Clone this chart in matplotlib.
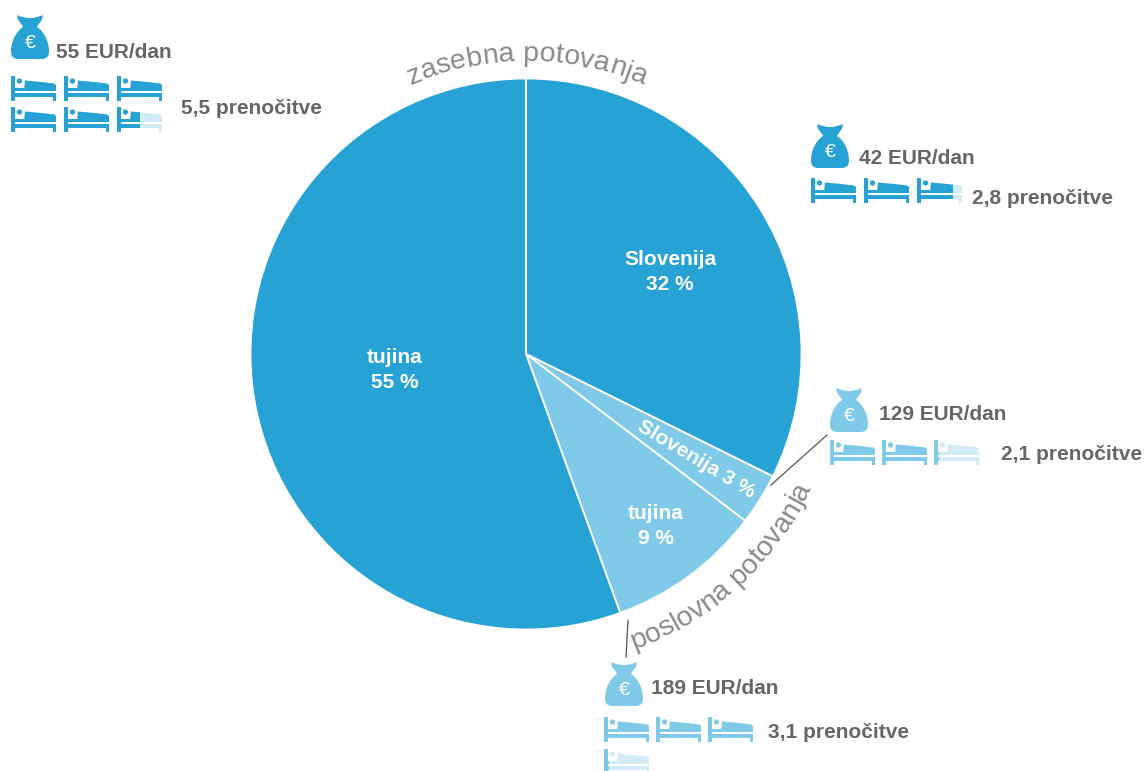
import math
import matplotlib
matplotlib.use("Agg")
import matplotlib.pyplot as plt
from matplotlib.font_manager import FontProperties
from matplotlib.patches import Circle, PathPatch, Polygon, Rectangle
from matplotlib.path import Path

W, H = 1144, 771
DARK = "#27a2d4"
LIGHT = "#7fcae8"
GREY = "#666666"

# pie
shares = [32, 3, 9, 55]
share_colors = [DARK, LIGHT, LIGHT, DARK]

# per group: label pos, stays, spend
spend = ["55 EUR/dan", "42 EUR/dan", "129 EUR/dan", "189 EUR/dan"]
stays = ["5,5 prenočitve", "2,8 prenočitve", "2,1 prenočitve", "3,1 prenočitve"]
bed_counts = [5.5, 2.8, 2.1, 3.1]

plt.rcParams["font.family"] = ["Liberation Sans", "DejaVu Sans"]

fig = plt.figure(figsize=(W / 100, H / 100), dpi=100)
ax = fig.add_axes([0, 0, 1, 1])

CX, CY, R = 526, H - 354, 275.5


def yy(y):
    # picture rows run downwards, axes upwards
    return H - y


ax.pie(shares, colors=share_colors, center=(CX, CY), radius=R, startangle=90,
       counterclock=False, normalize=True, frame=False,
       wedgeprops={"edgecolor": "white", "linewidth": 1.3})
ax.set_xlim(0, W)
ax.set_ylim(0, H)
ax.set_aspect("equal")
ax.axis("off")


def curved(s, r, mid, inner=False, **kw):
    # one letter at a time along a circle round the pie, mid in degrees clockwise from top
    prop = FontProperties(family="Liberation Sans", size=kw["fontsize"])
    rend = fig.canvas.get_renderer()
    total = rend.get_text_width_height_descent(s, prop, False)[0]
    sign = -1 if inner else 1
    for i, ch in enumerate(s):
        w0 = rend.get_text_width_height_descent(s[:i], prop, False)[0] if i else 0
        w1 = rend.get_text_width_height_descent(s[:i + 1], prop, False)[0]
        t = math.radians(mid) + sign * ((w0 + w1) / 2 - total / 2) / r
        x = CX + r * math.sin(t)
        y = CY + r * math.cos(t)
        rot = 180 - math.degrees(t) if inner else -math.degrees(t)
        ax.text(x, y, ch, rotation=rot, rotation_mode="anchor", ha="center", va="baseline", **kw)


def bed(x, y, color, frac=1.0):
    # x, y = top left corner of the icon in picture pixels
    def shapes(c):
        return [
            Rectangle((x, yy(y + 25)), 3.5, 25, fc=c, ec="none"),
            Rectangle((x, yy(y + 20.5)), 45, 3.5, fc=c, ec="none"),
            Rectangle((x + 41.5, yy(y + 25)), 3.5, 8, fc=c, ec="none"),
            Rectangle((x + 3, yy(y + 15)), 10, 3.5, fc=c, ec="none"),
            Circle((x + 8.5, yy(y + 5)), 2.6, fc=c, ec="none"),
            Polygon([(x + 14, yy(y + 4.5)), (x + 30, yy(y + 6)), (x + 43, yy(y + 7.5)), (x + 45, yy(y + 9)),
                     (x + 45, yy(y + 15)), (x + 13, yy(y + 15))], fc=c, ec="none"),
        ]

    for p in shapes("#d3ebf5"):
        ax.add_patch(p)
    clip = Rectangle((x, yy(y + 26)), 45 * frac, 27, transform=ax.transData)
    for p in shapes(color):
        ax.add_patch(p)
        p.set_clip_path(clip)


def bag(x, y, color):
    # 38 x 44 px money bag, top left at x, y
    w, h = 38, 44

    def P(u, v):
        return (x + u * w, yy(y + v * h))

    verts = [P(.16, 0), P(.33, .07), P(.5, .07), P(.67, .07), P(.84, 0),
             P(.82, .1), P(.72, .22), P(.68, .27),
             P(.88, .38), P(1, .62), P(1, .82), P(1, .96), P(.92, 1), P(.8, 1),
             P(.2, 1), P(.08, 1), P(0, .96), P(0, .82), P(0, .62), P(.12, .38), P(.32, .27),
             P(.28, .22), P(.18, .1), P(.16, 0), P(.16, 0)]
    codes = [Path.MOVETO, Path.CURVE3, Path.CURVE3, Path.CURVE3, Path.CURVE3,
             Path.LINETO, Path.LINETO, Path.LINETO,
             Path.CURVE4, Path.CURVE4, Path.CURVE4, Path.CURVE4, Path.CURVE4, Path.CURVE4,
             Path.LINETO, Path.CURVE4, Path.CURVE4, Path.CURVE4, Path.CURVE4, Path.CURVE4, Path.CURVE4,
             Path.LINETO, Path.LINETO, Path.LINETO, Path.CLOSEPOLY]
    ax.add_patch(PathPatch(Path(verts, codes), fc=color, ec="none"))
    ax.text(x + w * .5, yy(y + h * .64), "€", color="white", fontsize=14, ha="center", va="center")


# labels inside the pie
slice_kw = dict(color="white", fontsize=15, fontweight="bold", ha="center", va="center", linespacing=1.38)
ax.text(670, yy(272), "Slovenija\n32 %", **slice_kw)
ax.text(395, yy(370), "tujina\n55 %", **slice_kw)
ax.text(656, yy(526), "tujina\n9 %", **slice_kw)
ax.text(696, yy(459), "Slovenija 3 %", rotation=-31, rotation_mode="anchor", **slice_kw)

# curved titles
curved("zasebna potovanja", 293, 0.2, color="#8a8a8a", fontsize=20.5)
curved("poslovna potovanja", 315, 137.5, inner=True, color="#8a8a8a", fontsize=20.5)

# leader lines
ax.plot([771, 827], [yy(485), yy(435)], color="#555555", lw=0.9)
ax.plot([628, 626], [yy(620), yy(657)], color="#555555", lw=0.9)

# bags
bag(11, 15, DARK)
bag(811, 124, DARK)
bag(830, 388, LIGHT)
bag(605, 662, LIGHT)

# beds, drawn from the nights count, 3 per row
bed_starts = [(11, 76, 53, 31), (811, 178, 53, 31), (830, 440, 52, 31), (604, 717, 52, 32)]
bed_colors = [DARK, DARK, LIGHT, LIGHT]
for n, (bx, by, dx, dy), c in zip(bed_counts, bed_starts, bed_colors):
    for i in range(math.ceil(n)):
        bed(bx + dx * (i % 3), by + dy * (i // 3), c, min(1.0, n - i))

# numbers next to the icons
text_kw = dict(color=GREY, fontsize=15, fontweight="bold", ha="left", va="center")
for s, (x, y) in zip(spend, [(56, 53), (859, 158), (879, 415), (651, 689)]):
    ax.text(x, yy(y), s, **text_kw)
for s, (x, y) in zip(stays, [(181, 109), (972, 199), (1001, 455), (768, 733)]):
    ax.text(x, yy(y), s, **text_kw)

fig.savefig("out.png", dpi=100, facecolor="white")
